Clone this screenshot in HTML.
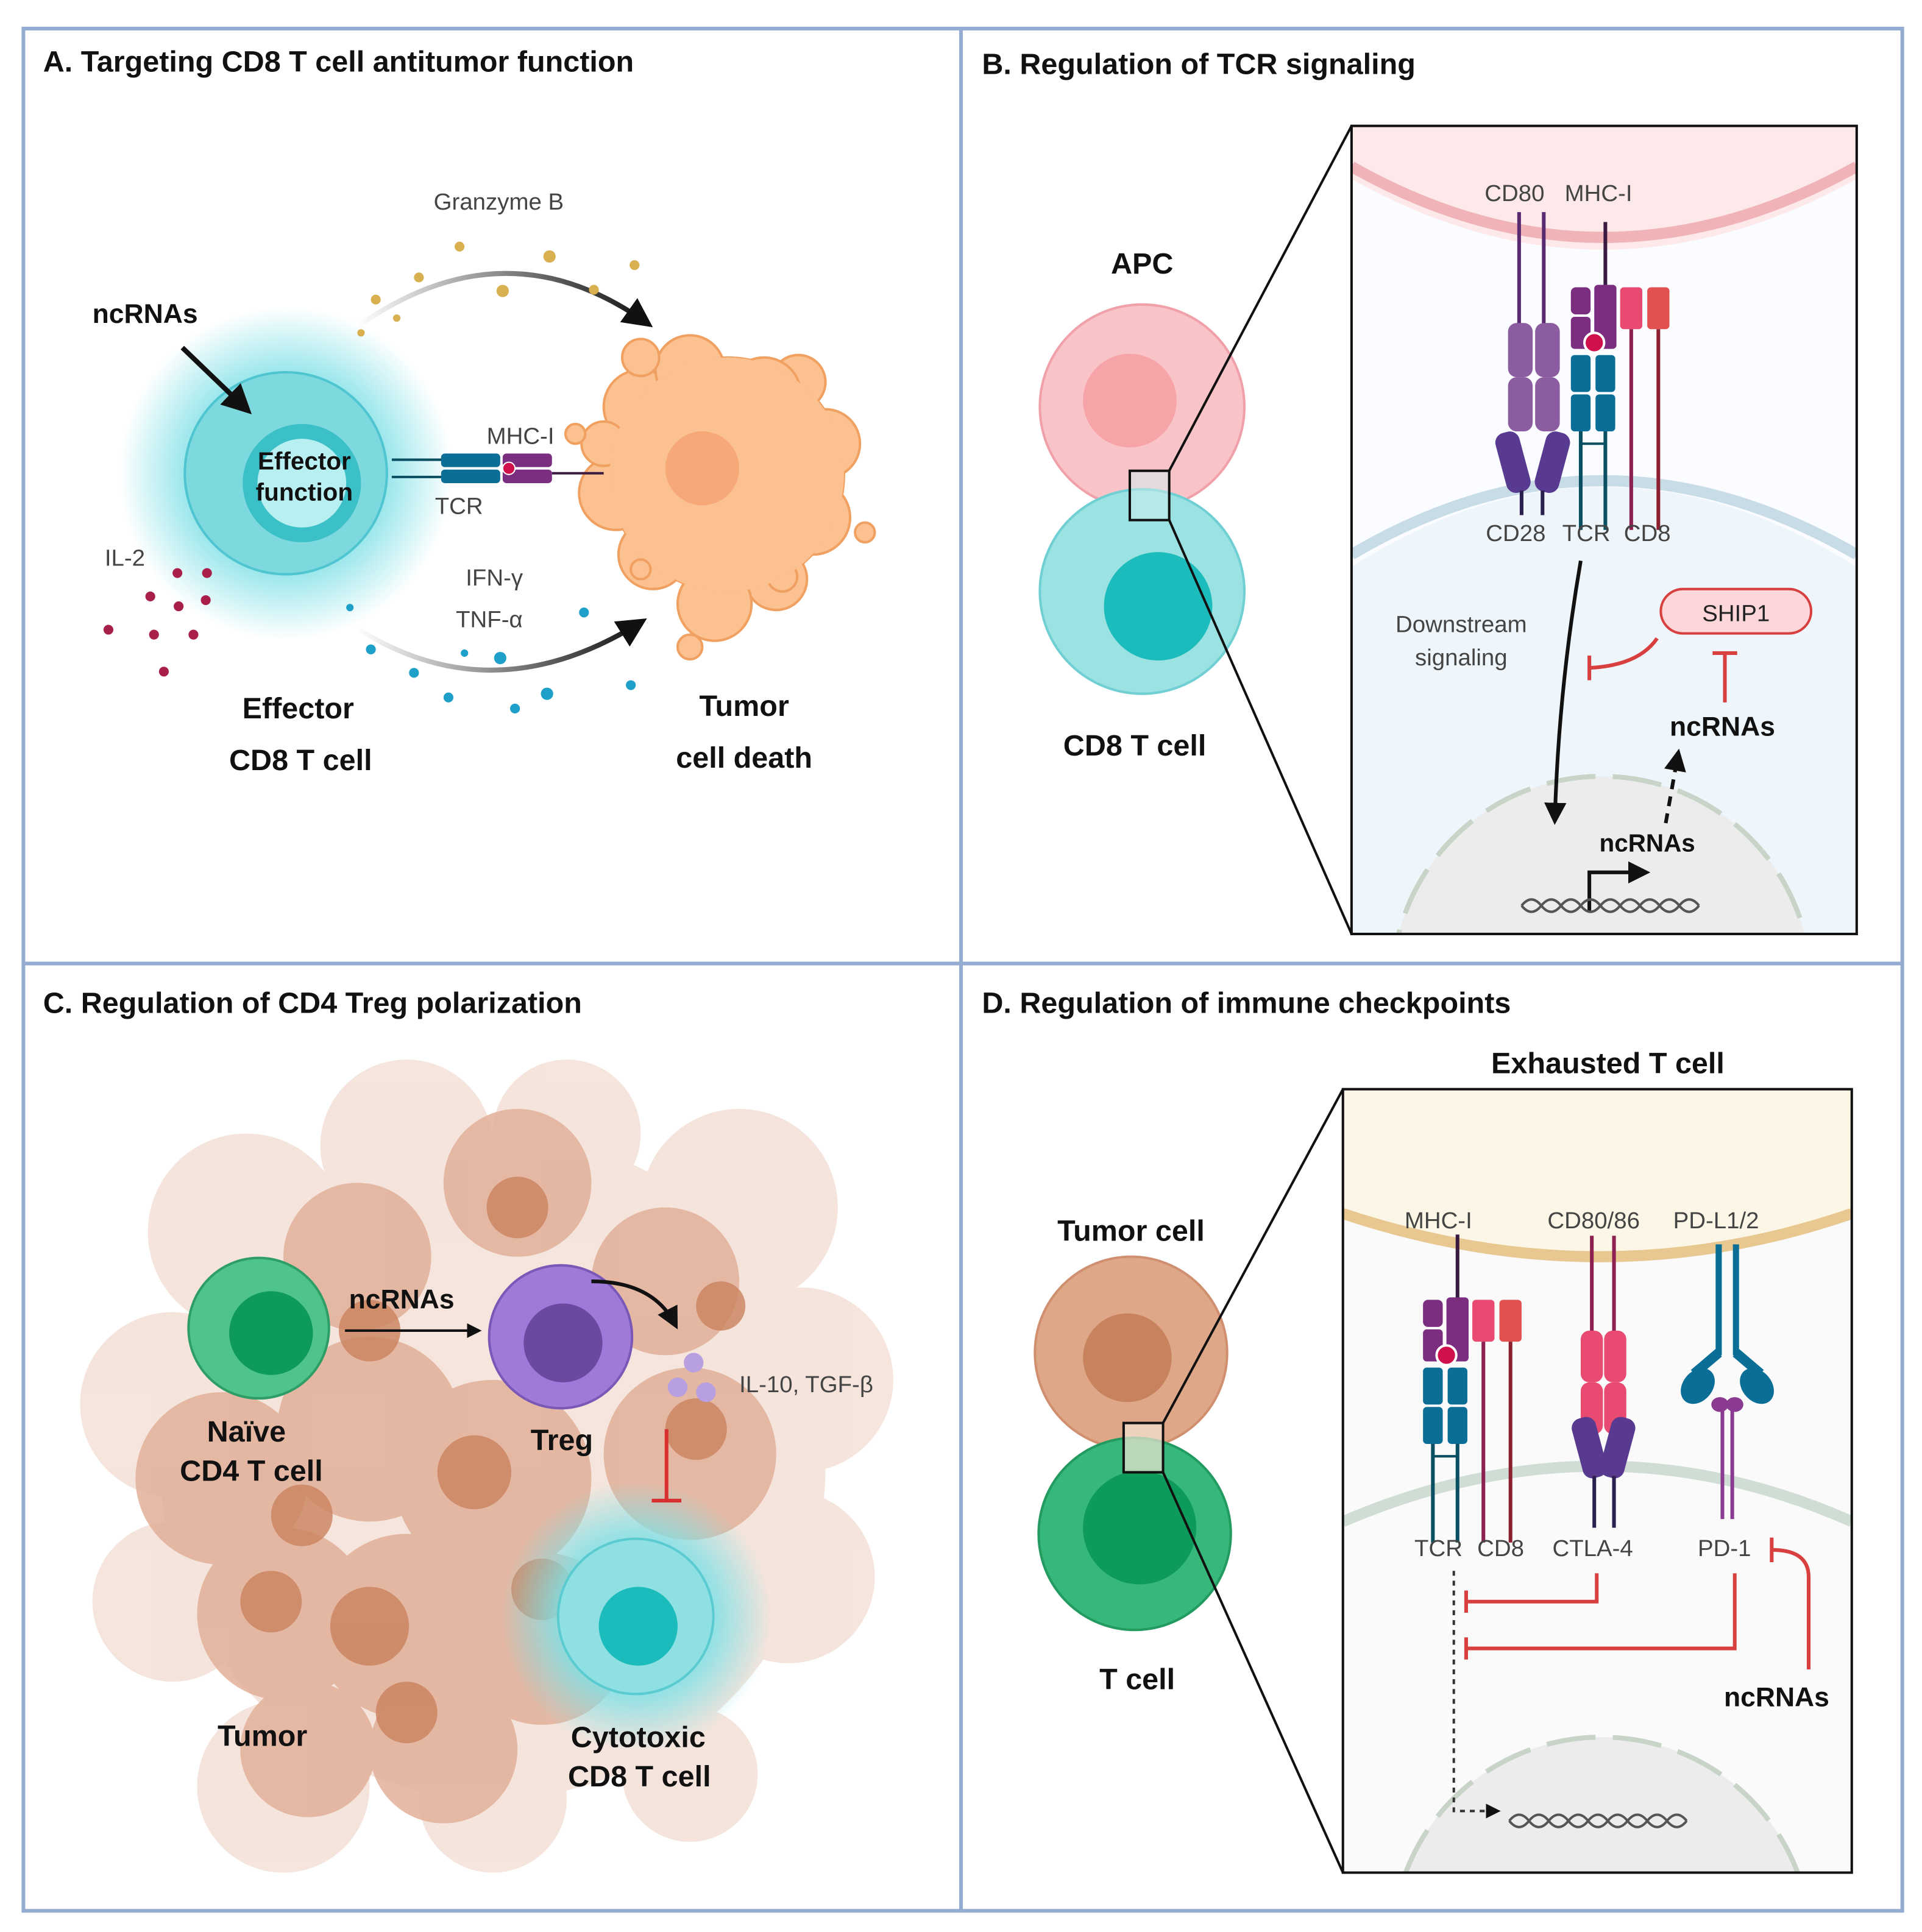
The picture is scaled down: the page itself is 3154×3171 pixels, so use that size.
<!DOCTYPE html>
<html><head><meta charset="utf-8"><style>
html,body{margin:0;padding:0;background:#fff;width:3154px;height:3171px;overflow:hidden}
svg{display:block}
text{font-family:"Liberation Sans",sans-serif}
.t{font-weight:bold;font-size:24px;fill:#111}
.b{font-weight:bold;font-size:24px;fill:#111}
.s{font-size:19px;fill:#444}
</style></head><body>
<svg width="3154" height="3171" viewBox="0 0 1560 1568" xmlns="http://www.w3.org/2000/svg">
<defs>
<radialGradient id="glow"><stop offset="0.6" stop-color="#7fe0e6" stop-opacity="0.8"/><stop offset="1" stop-color="#7fe0e6" stop-opacity="0"/></radialGradient>
<marker id="ar" markerWidth="6" markerHeight="6" refX="4.5" refY="3" orient="auto"><path d="M0,0 L6,3 L0,6z" fill="#111"/></marker>
<linearGradient id="fade" x1="0" x2="1"><stop offset="0" stop-color="#fff"/><stop offset="1" stop-color="#111"/></linearGradient>
<g id="mhc">
<line x1="28" y1="-65" x2="28" y2="-10" stroke="#3a1a40" stroke-width="3"/>
<rect x="0" y="-12" width="16" height="22" rx="4" fill="#7b2d80"/>
<rect x="0" y="12" width="16" height="26" rx="3" fill="#7b2d80"/>
<rect x="19" y="-14" width="18" height="52" rx="3" fill="#7b2d80"/>
<circle cx="19" cy="33" r="8" fill="#d0104a" stroke="#fff" stroke-width="2"/>
<rect x="0" y="43" width="16" height="30" rx="3" fill="#0b6e96"/>
<rect x="20" y="43" width="16" height="30" rx="3" fill="#0b6e96"/>
<rect x="0" y="75" width="16" height="30" rx="3" fill="#0b6e96"/>
<rect x="20" y="75" width="16" height="30" rx="3" fill="#0b6e96"/>
<line x1="8" y1="105" x2="8" y2="185" stroke="#0b4f63" stroke-width="3"/>
<line x1="28" y1="105" x2="28" y2="185" stroke="#0b4f63" stroke-width="3"/>
<line x1="8" y1="115" x2="28" y2="115" stroke="#0b4f63" stroke-width="2"/>
<rect x="40" y="-12" width="18" height="34" rx="3" fill="#e84a72"/>
<rect x="62" y="-12" width="18" height="34" rx="3" fill="#e25050"/>
<line x1="49" y1="22" x2="49" y2="185" stroke="#8c2050" stroke-width="3"/>
<line x1="71" y1="22" x2="71" y2="185" stroke="#8c2030" stroke-width="3"/>
</g>
</defs>
<rect width="1560" height="1568" fill="#fff"/>
<g fill="none" stroke="#94acd2" stroke-width="3">
<rect x="19" y="23" width="1525" height="1528"/>
<line x1="780" y1="23" x2="780" y2="1551"/>
<line x1="19" y1="782" x2="1544" y2="782"/>
</g>

<!-- PANEL A -->
<text x="35" y="58" class="t">A. Targeting CD8 T cell antitumor function</text>
<circle cx="232" cy="384" r="135" fill="url(#glow)"/>
<circle cx="232" cy="384" r="82" fill="#7ed9df" stroke="#4ec5d0" stroke-width="2"/>
<circle cx="245" cy="392" r="48" fill="#3cc0c8"/>
<circle cx="245" cy="392" r="36" fill="#b8f0f2"/>
<text x="247" y="381" text-anchor="middle" class="b" style="font-size:20px">Effector</text>
<text x="247" y="406" text-anchor="middle" class="b" style="font-size:20px">function</text>
<text x="75" y="262" class="b" style="font-size:22px">ncRNAs</text>
<line x1="148" y1="282" x2="200" y2="332" stroke="#111" stroke-width="4" marker-end="url(#ar)"/>
<g fill="#fcc190" stroke="#f0a060" stroke-width="2">
<circle cx="590" cy="385" r="95"/>
<circle cx="520" cy="330" r="30"/><circle cx="560" cy="300" r="28"/><circle cx="520" cy="290" r="15"/>
<circle cx="648" cy="310" r="22"/><circle cx="620" cy="320" r="30"/><circle cx="670" cy="360" r="28"/>
<circle cx="660" cy="420" r="30"/><circle cx="630" cy="470" r="25"/><circle cx="580" cy="490" r="30"/>
<circle cx="530" cy="450" r="28"/><circle cx="500" cy="400" r="30"/><circle cx="490" cy="360" r="18"/>
<circle cx="467" cy="352" r="8"/><circle cx="650" cy="390" r="10"/><circle cx="702" cy="432" r="8"/>
<circle cx="635" cy="468" r="12"/><circle cx="560" cy="525" r="10"/><circle cx="520" cy="462" r="8"/>
</g>
<circle cx="590" cy="385" r="95" fill="#fcc190"/>
<circle cx="570" cy="380" r="30" fill="#f7a878"/>
<line x1="318" y1="373" x2="360" y2="373" stroke="#0b4f63" stroke-width="2"/>
<line x1="318" y1="387" x2="360" y2="387" stroke="#0b4f63" stroke-width="2"/>
<rect x="358" y="368" width="48" height="11" rx="3" fill="#0b6e96"/>
<rect x="358" y="381" width="48" height="11" rx="3" fill="#0b6e96"/>
<rect x="408" y="368" width="40" height="11" rx="3" fill="#7b2d80"/>
<rect x="408" y="381" width="40" height="11" rx="3" fill="#7b2d80"/>
<circle cx="413" cy="380" r="5" fill="#d0104a" stroke="#fff"/>
<line x1="448" y1="384" x2="490" y2="384" stroke="#3a1a40" stroke-width="2"/>
<text x="395" y="360" class="s">MHC-I</text>
<text x="353" y="417" class="s">TCR</text>
<text x="352" y="170" class="s">Granzyme B</text>
<path d="M290,265 Q410,180 525,262" fill="none" stroke="url(#fade)" stroke-width="4" marker-end="url(#ar)"/>
<g fill="#d8b050"><circle cx="305" cy="243" r="4"/><circle cx="340" cy="225" r="4"/><circle cx="373" cy="200" r="4"/><circle cx="408" cy="236" r="5"/><circle cx="446" cy="208" r="5"/><circle cx="482" cy="235" r="4"/><circle cx="515" cy="215" r="4"/><circle cx="322" cy="258" r="3"/><circle cx="293" cy="270" r="3"/></g>
<text x="378" y="475" class="s">IFN-γ</text>
<text x="370" y="509" class="s">TNF-α</text>
<path d="M290,510 Q400,580 520,505" fill="none" stroke="url(#fade)" stroke-width="4" marker-end="url(#ar)"/>
<g fill="#1ea0c8"><circle cx="284" cy="493" r="3"/><circle cx="301" cy="527" r="4"/><circle cx="336" cy="546" r="4"/><circle cx="364" cy="566" r="4"/><circle cx="406" cy="534" r="5"/><circle cx="418" cy="575" r="4"/><circle cx="444" cy="563" r="5"/><circle cx="474" cy="497" r="4"/><circle cx="512" cy="556" r="4"/><circle cx="377" cy="530" r="3"/></g>
<text x="85" y="459" class="s">IL-2</text>
<g fill="#a8204a"><circle cx="144" cy="465" r="4"/><circle cx="168" cy="465" r="4"/><circle cx="122" cy="484" r="4"/><circle cx="145" cy="492" r="4"/><circle cx="167" cy="487" r="4"/><circle cx="88" cy="511" r="4"/><circle cx="125" cy="515" r="4"/><circle cx="157" cy="515" r="4"/><circle cx="133" cy="545" r="4"/></g>
<text x="242" y="583" text-anchor="middle" class="b">Effector</text>
<text x="244" y="625" text-anchor="middle" class="b">CD8 T cell</text>
<text x="604" y="581" text-anchor="middle" class="b">Tumor</text>
<text x="604" y="623" text-anchor="middle" class="b">cell death</text>

<!-- PANEL B -->
<text x="797" y="60" class="t">B. Regulation of TCR signaling</text>
<text x="927" y="222" text-anchor="middle" class="b">APC</text>
<circle cx="927" cy="330" r="83" fill="#f9c4c8" stroke="#f0a0a8" stroke-width="2"/>
<circle cx="917" cy="325" r="38" fill="#f7a4a8"/>
<circle cx="927" cy="480" r="83" fill="#9be2e2" stroke="#70cfd2" stroke-width="2"/>
<circle cx="940" cy="492" r="44" fill="#1cbcbc"/>
<rect x="917" y="382" width="32" height="40" fill="#cfeef0" fill-opacity="0.5" stroke="#111" stroke-width="2"/>
<text x="921" y="613" text-anchor="middle" class="b">CD8 T cell</text>
<line x1="949" y1="382" x2="1097" y2="102" stroke="#111" stroke-width="2"/>
<line x1="949" y1="422" x2="1097" y2="758" stroke="#111" stroke-width="2"/>
<svg x="1097" y="102" width="410" height="656" viewBox="1097 102 410 656">
<rect x="1097" y="102" width="410" height="656" fill="#fafcff"/>
<path d="M1097,102 L1507,102 L1507,145 Q1300,260 1097,145z" fill="#fde8ea"/>
<path d="M1097,135 Q1300,250 1507,135" fill="none" stroke="#f0b4b8" stroke-width="9"/>
<path d="M1097,460 Q1300,330 1507,460 L1507,758 L1097,758z" fill="#eef6fb"/>
<path d="M1097,450 Q1300,330 1507,450" fill="none" stroke="#c8dce8" stroke-width="9"/>
<circle cx="1300" cy="800" r="170" fill="#ececec" stroke="#c8d4c8" stroke-width="4" stroke-dasharray="40 14"/>
</svg>
<rect x="1097" y="102" width="410" height="656" fill="none" stroke="#111" stroke-width="2"/>
<text x="1205" y="163" class="s">CD80</text><text x="1270" y="163" class="s">MHC-I</text>
<line x1="1233" y1="172" x2="1233" y2="290" stroke="#5a2a70" stroke-width="3"/>
<line x1="1253" y1="172" x2="1253" y2="290" stroke="#5a2a70" stroke-width="3"/>
<rect x="1224" y="262" width="20" height="44" rx="7" fill="#8c5ca0"/><rect x="1246" y="262" width="20" height="44" rx="7" fill="#8c5ca0"/>
<rect x="1224" y="306" width="20" height="44" rx="7" fill="#8c5ca0"/><rect x="1246" y="306" width="20" height="44" rx="7" fill="#8c5ca0"/>
<rect x="1218" y="350" width="20" height="50" rx="8" fill="#583a90" transform="rotate(-15 1228 375)"/>
<rect x="1250" y="350" width="20" height="50" rx="8" fill="#583a90" transform="rotate(15 1260 375)"/>
<line x1="1235" y1="398" x2="1235" y2="418" stroke="#2a2050" stroke-width="3"/>
<line x1="1252" y1="398" x2="1252" y2="418" stroke="#2a2050" stroke-width="3"/>
<use href="#mhc" x="1275" y="245"/>
<text x="1206" y="439" class="s">CD28</text><text x="1268" y="439" class="s">TCR</text><text x="1318" y="439" class="s">CD8</text>
<text x="1186" y="513" text-anchor="middle" class="s">Downstream</text>
<text x="1186" y="540" text-anchor="middle" class="s">signaling</text>
<path d="M1283,455 Q1265,560 1262,665" fill="none" stroke="#111" stroke-width="3" marker-end="url(#ar)"/>
<rect x="1348" y="478" width="122" height="36" rx="18" fill="#fcd6d8" stroke="#d84040" stroke-width="2"/>
<text x="1409" y="504" text-anchor="middle" class="s" style="fill:#222">SHIP1</text>
<path d="M1345,518 Q1330,540 1290,542" fill="none" stroke="#d84040" stroke-width="3"/>
<line x1="1290" y1="532" x2="1290" y2="552" stroke="#d84040" stroke-width="3"/>
<line x1="1400" y1="570" x2="1400" y2="530" stroke="#d84040" stroke-width="3"/>
<line x1="1390" y1="530" x2="1410" y2="530" stroke="#d84040" stroke-width="3"/>
<text x="1398" y="597" text-anchor="middle" class="b" style="font-size:22px">ncRNAs</text>
<line x1="1352" y1="668" x2="1362" y2="612" stroke="#111" stroke-width="3" stroke-dasharray="8 6" marker-end="url(#ar)"/>
<text x="1337" y="691" text-anchor="middle" class="b" style="font-size:20px">ncRNAs</text>
<path d="M1290,740 L1290,708 L1335,708" fill="none" stroke="#111" stroke-width="3" marker-end="url(#ar)"/>
<path d="M1235,735 q8,-10 16,0 t16,0 t16,0 t16,0 t16,0 t16,0 t16,0 t16,0 t16,0" fill="none" stroke="#555" stroke-width="2"/>
<path d="M1235,735 q8,10 16,0 t16,0 t16,0 t16,0 t16,0 t16,0 t16,0 t16,0 t16,0" fill="none" stroke="#555" stroke-width="2"/>

<!-- PANEL C -->
<text x="35" y="822" class="t">C. Regulation of CD4 Treg polarization</text>
<g>
<g fill="#f3e0d6" opacity="0.85">
<circle cx="200" cy="1000" r="80"/><circle cx="330" cy="930" r="70"/><circle cx="460" cy="920" r="60"/><circle cx="600" cy="980" r="80"/>
<circle cx="650" cy="1120" r="75"/><circle cx="640" cy="1280" r="70"/><circle cx="140" cy="1140" r="75"/><circle cx="140" cy="1300" r="65"/>
<circle cx="230" cy="1450" r="70"/><circle cx="400" cy="1460" r="60"/><circle cx="560" cy="1440" r="55"/><circle cx="400" cy="1190" r="270"/>
</g>
<g fill="#e2b09a" opacity="0.85">
<circle cx="290" cy="1020" r="60"/><circle cx="420" cy="960" r="60"/><circle cx="540" cy="1040" r="60"/>
<circle cx="180" cy="1200" r="70"/><circle cx="300" cy="1160" r="75"/><circle cx="400" cy="1200" r="80"/>
<circle cx="560" cy="1180" r="70"/><circle cx="230" cy="1310" r="70"/><circle cx="330" cy="1320" r="75"/>
<circle cx="440" cy="1330" r="70"/><circle cx="250" cy="1420" r="55"/><circle cx="360" cy="1420" r="60"/>
</g>
<g fill="#c9825e" opacity="0.8">
<circle cx="300" cy="1080" r="25"/><circle cx="420" cy="980" r="25"/><circle cx="385" cy="1195" r="30"/>
<circle cx="245" cy="1230" r="25"/><circle cx="300" cy="1320" r="32"/><circle cx="220" cy="1300" r="25"/>
<circle cx="565" cy="1160" r="25"/><circle cx="440" cy="1290" r="25"/><circle cx="330" cy="1390" r="25"/>
<circle cx="585" cy="1060" r="20"/>
</g>
</g>
<circle cx="516" cy="1312" r="110" fill="url(#glow)"/>
<circle cx="516" cy="1312" r="63" fill="#8ee0e2" stroke="#5acbd0" stroke-width="2"/>
<circle cx="518" cy="1320" r="32" fill="#1cbcbc"/>
<circle cx="210" cy="1078" r="57" fill="#4ec48a" stroke="#2e9e66" stroke-width="2"/>
<circle cx="220" cy="1082" r="34" fill="#0e9a5a"/>
<circle cx="455" cy="1085" r="58" fill="#a07ad8" stroke="#7a58b8" stroke-width="2"/>
<circle cx="457" cy="1090" r="32" fill="#6a4aa0"/>
<text x="326" y="1062" text-anchor="middle" class="b" style="font-size:22px">ncRNAs</text>
<line x1="280" y1="1080" x2="388" y2="1080" stroke="#111" stroke-width="2" marker-end="url(#ar)"/>
<path d="M480,1040 Q530,1040 548,1075" fill="none" stroke="#111" stroke-width="3" marker-end="url(#ar)"/>
<g fill="#b8a0e0"><circle cx="563" cy="1106" r="8"/><circle cx="550" cy="1126" r="8"/><circle cx="573" cy="1130" r="8"/></g>
<text x="600" y="1130" class="s">IL-10, TGF-β</text>
<line x1="541" y1="1160" x2="541" y2="1218" stroke="#d83030" stroke-width="3"/>
<line x1="529" y1="1218" x2="553" y2="1218" stroke="#d83030" stroke-width="3"/>
<text x="200" y="1170" text-anchor="middle" class="b">Naïve</text>
<text x="204" y="1202" text-anchor="middle" class="b">CD4 T cell</text>
<text x="456" y="1177" text-anchor="middle" class="b">Treg</text>
<text x="213" y="1417" text-anchor="middle" class="b">Tumor</text>
<text x="518" y="1418" text-anchor="middle" class="b">Cytotoxic</text>
<text x="519" y="1450" text-anchor="middle" class="b">CD8 T cell</text>

<!-- PANEL D -->
<text x="797" y="822" class="t">D. Regulation of immune checkpoints</text>
<text x="1305" y="871" text-anchor="middle" class="b">Exhausted T cell</text>
<text x="918" y="1007" text-anchor="middle" class="b">Tumor cell</text>
<circle cx="918" cy="1098" r="78" fill="#dea888" stroke="#d09070" stroke-width="2"/>
<circle cx="915" cy="1102" r="36" fill="#c9825e"/>
<circle cx="921" cy="1245" r="78" fill="#36b87a" stroke="#229a60" stroke-width="2"/>
<circle cx="925" cy="1240" r="46" fill="#0e9a5a"/>
<rect x="912" y="1155" width="32" height="40" fill="#f4e4d4" fill-opacity="0.7" stroke="#111" stroke-width="2"/>
<text x="923" y="1371" text-anchor="middle" class="b">T cell</text>
<line x1="944" y1="1155" x2="1090" y2="884" stroke="#111" stroke-width="2"/>
<line x1="944" y1="1195" x2="1090" y2="1520" stroke="#111" stroke-width="2"/>
<svg x="1090" y="884" width="413" height="636" viewBox="1090 884 413 636">
<rect x="1090" y="884" width="413" height="636" fill="#fafafa"/>
<path d="M1090,884 L1503,884 L1503,985 Q1300,1050 1090,985z" fill="#fcf6e6"/>
<path d="M1090,985 Q1300,1055 1503,985" fill="none" stroke="#e8c890" stroke-width="9"/>
<path d="M1090,1235 Q1300,1145 1503,1235" fill="none" stroke="#cfddd4" stroke-width="9"/>
<circle cx="1300" cy="1580" r="170" fill="#ececec" stroke="#c8d4c8" stroke-width="4" stroke-dasharray="40 14"/>
</svg>
<rect x="1090" y="884" width="413" height="636" fill="none" stroke="#111" stroke-width="2"/>
<text x="1140" y="997" class="s">MHC-I</text><text x="1256" y="997" class="s">CD80/86</text><text x="1358" y="997" class="s">PD-L1/2</text>
<use href="#mhc" x="1155" y="1067"/>
<line x1="1292" y1="1003" x2="1292" y2="1090" stroke="#8c2050" stroke-width="3"/>
<line x1="1310" y1="1003" x2="1310" y2="1090" stroke="#8c2050" stroke-width="3"/>
<rect x="1283" y="1080" width="18" height="42" rx="7" fill="#e84a72"/><rect x="1302" y="1080" width="18" height="42" rx="7" fill="#e84a72"/>
<rect x="1283" y="1122" width="18" height="42" rx="7" fill="#e84a72"/><rect x="1302" y="1122" width="18" height="42" rx="7" fill="#e84a72"/>
<rect x="1280" y="1150" width="20" height="50" rx="8" fill="#583a90" transform="rotate(-15 1290 1175)"/>
<rect x="1303" y="1150" width="20" height="50" rx="8" fill="#583a90" transform="rotate(15 1313 1175)"/>
<line x1="1294" y1="1198" x2="1294" y2="1240" stroke="#2a2050" stroke-width="3"/>
<line x1="1310" y1="1198" x2="1310" y2="1240" stroke="#2a2050" stroke-width="3"/>
<line x1="1395" y1="1010" x2="1395" y2="1100" stroke="#0b6e96" stroke-width="5"/>
<line x1="1409" y1="1010" x2="1409" y2="1100" stroke="#0b6e96" stroke-width="5"/>
<path d="M1395,1098 L1375,1115" stroke="#0b6e96" stroke-width="8"/>
<path d="M1409,1098 L1429,1115" stroke="#0b6e96" stroke-width="8"/>
<ellipse cx="1378" cy="1125" rx="12" ry="16" fill="#0b6e96" transform="rotate(40 1378 1125)"/>
<ellipse cx="1426" cy="1125" rx="12" ry="16" fill="#0b6e96" transform="rotate(-40 1426 1125)"/>
<ellipse cx="1396" cy="1140" rx="7" ry="6" fill="#8a3a90"/><ellipse cx="1408" cy="1140" rx="7" ry="6" fill="#8a3a90"/>
<line x1="1398" y1="1140" x2="1398" y2="1233" stroke="#8a3a90" stroke-width="3"/>
<line x1="1406" y1="1140" x2="1406" y2="1233" stroke="#8a3a90" stroke-width="3"/>
<text x="1148" y="1263" class="s">TCR</text><text x="1199" y="1263" class="s">CD8</text><text x="1260" y="1263" class="s">CTLA-4</text><text x="1378" y="1263" class="s">PD-1</text>
<g fill="none" stroke="#d84040" stroke-width="3">
<path d="M1296,1277 L1296,1300 L1190,1300"/><line x1="1190" y1="1291" x2="1190" y2="1309"/>
<path d="M1408,1277 L1408,1338 L1190,1338"/><line x1="1190" y1="1329" x2="1190" y2="1347"/>
<path d="M1468,1355 L1468,1280 Q1468,1258 1438,1258"/><line x1="1438" y1="1248" x2="1438" y2="1268"/>
</g>
<text x="1442" y="1385" text-anchor="middle" class="b" style="font-size:22px">ncRNAs</text>
<path d="M1180,1275 L1180,1470 L1215,1470" fill="none" stroke="#333" stroke-width="2" stroke-dasharray="4 4" marker-end="url(#ar)"/>
<path d="M1225,1478 q8,-10 16,0 t16,0 t16,0 t16,0 t16,0 t16,0 t16,0 t16,0 t16,0" fill="none" stroke="#555" stroke-width="2"/>
<path d="M1225,1478 q8,10 16,0 t16,0 t16,0 t16,0 t16,0 t16,0 t16,0 t16,0 t16,0" fill="none" stroke="#555" stroke-width="2"/>
</svg>
</body></html>
